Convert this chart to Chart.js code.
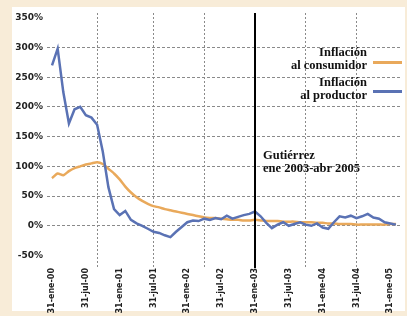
<!DOCTYPE html>
<html>
<head>
<meta charset="utf-8">
<script src="https://cdn.jsdelivr.net/npm/chart.js@4.4.1/dist/chart.umd.min.js"></script>
<style>
  html, body { margin: 0; padding: 0; }
  body { width: 407px; height: 316px; background: #f8ecd8; position: relative; overflow: hidden; }
  #panel { position: absolute; left: 12px; top: 7px; width: 393px; height: 304px; background: #fff; }
  #wrap { position: absolute; left: 0; top: 0; width: 407px; height: 316px; }
  .note { position: absolute; font-family: "Liberation Serif", serif; font-size: 12.5px; font-weight: bold; line-height: 13px; color: #111; white-space: nowrap; }
  .legend { text-align: right; right: 40px; }
  .swatch { position: absolute; left: 373px; width: 29px; height: 3px; }
</style>
</head>
<body>
<div id="panel"></div>
<div id="wrap"><canvas id="inflationChart" width="407" height="316"></canvas></div>
<div class="note legend" style="top:46px">Inflación<br>al consumidor</div>
<div class="swatch" style="top:61px; background:#e9a95b"></div>
<div class="note legend" style="top:76px">Inflación<br>al productor</div>
<div class="swatch" style="top:90px; background:#5a72b4"></div>
<div class="note" style="left:263px; top:149px">Gutiérrez<br>ene 2003-abr 2005</div>
<script>
// monthly series, starting ene-2000
const consumerInflation = [
  80, 88, 85, 92, 97, 100, 103, 105, 107, 104,
  96, 88, 78, 66, 56, 48, 42, 37, 33, 31,
  28, 26, 24, 22, 20, 18, 16, 14, 13, 13,
  12, 11, 10, 10, 9, 9, 10, 9, 8, 8,
  8, 7, 7, 7, 6, 6, 6, 5, 5, 4,
  4, 3, 3, 3, 2, 2, 2, 2, 2, 2,
  3, 3
];
const producerInflation = [
  270, 298, 225, 172, 196, 200, 186, 182, 170, 125,
  65, 28, 18, 25, 10, 4, 0, -5, -10, -12,
  -16, -19, -10, -2, 6, 9, 8, 12, 10, 13,
  11, 17, 12, 15, 18, 20, 24, 16, 5, -4,
  2, 6, 0, 3, 6, 2, 0, 4, -3, -5,
  6, 16, 14, 17, 13, 16, 20, 14, 12, 6,
  4, 2
];
const tickMonths = [0, 6, 12, 18, 24, 30, 36, 42, 48, 54, 60];
const tickLabels = ['31-ene-00', '31-jul-00', '31-ene-01', '31-jul-01', '31-ene-02', '31-jul-02',
  '31-ene-03', '31-jul-03', '31-ene-04', '31-jul-04', '31-ene-05'];
const gridMonths = [8, 18, 27, 36, 45, 54];
const yTicks = [-50, 0, 50, 100, 150, 200, 250, 300, 350];
const gutierrezMonth = 36;

const X_MIN = -0.89, X_MAX = 61.9;
const Y_MIN = -71, Y_MAX = 358;

const toPoints = arr => arr.map((v, i) => ({ x: i, y: v }));

const ctx = document.getElementById('inflationChart').getContext('2d');
new Chart(ctx, {
  type: 'line',
  data: {
    datasets: [
      {
        label: 'Gutiérrez',
        data: [{ x: gutierrezMonth, y: Y_MIN }, { x: gutierrezMonth, y: Y_MAX }],
        borderColor: '#000',
        borderWidth: 2,
        pointRadius: 0,
        order: 0
      },
      {
        label: 'Inflación al productor',
        data: toPoints(producerInflation),
        borderColor: '#5a72b4',
        borderWidth: 2.5,
        pointRadius: 0,
        tension: 0,
        order: 1
      },
      {
        label: 'Inflación al consumidor',
        data: toPoints(consumerInflation),
        borderColor: '#e9a95b',
        borderWidth: 2.5,
        pointRadius: 0,
        tension: 0.2,
        order: 2
      }
    ]
  },
  options: {
    responsive: false,
    animation: false,
    layout: { padding: { top: 13, right: 6, bottom: 0, left: 0 } },
    plugins: {
      legend: { display: false },
      tooltip: { enabled: false }
    },
    scales: {
      x: {
        type: 'linear',
        min: X_MIN,
        max: X_MAX,
        afterBuildTicks: scale => { scale.ticks = tickMonths.map(v => ({ value: v })); },
        afterFit: scale => { scale.height = 48; },
        grid: { display: false, drawTicks: false },
        border: { display: false },
        ticks: {
          autoSkip: false,
          minRotation: 90,
          maxRotation: 90,
          padding: 0,
          color: '#222',
          font: { family: 'DejaVu Sans', size: 8, weight: 'bold' },
          callback: value => tickLabels[tickMonths.indexOf(value)]
        }
      },
      x2: {
        type: 'linear',
        position: 'bottom',
        min: X_MIN,
        max: X_MAX,
        afterBuildTicks: scale => { scale.ticks = gridMonths.map(v => ({ value: v })); },
        afterFit: scale => { scale.height = 0; },
        grid: { color: '#8a8a8a', lineWidth: 1, drawTicks: false },
        border: { display: false, dash: [2, 2] },
        ticks: { display: false }
      },
      y: {
        min: Y_MIN,
        max: Y_MAX,
        afterBuildTicks: scale => { scale.ticks = yTicks.map(v => ({ value: v })); },
        afterFit: scale => { scale.width = 47; },
        grid: {
          color: c => (c.tick && (c.tick.value === -50 || c.tick.value === 350)) ? 'rgba(0,0,0,0)' : '#8a8a8a',
          lineWidth: 1,
          drawTicks: false
        },
        border: { display: false, dash: [3, 2] },
        ticks: {
          padding: 4,
          color: '#222',
          font: { family: 'DejaVu Sans', size: 9, weight: 'bold' },
          callback: value => value + '%'
        }
      }
    }
  }
});
</script>
</body>
</html>
